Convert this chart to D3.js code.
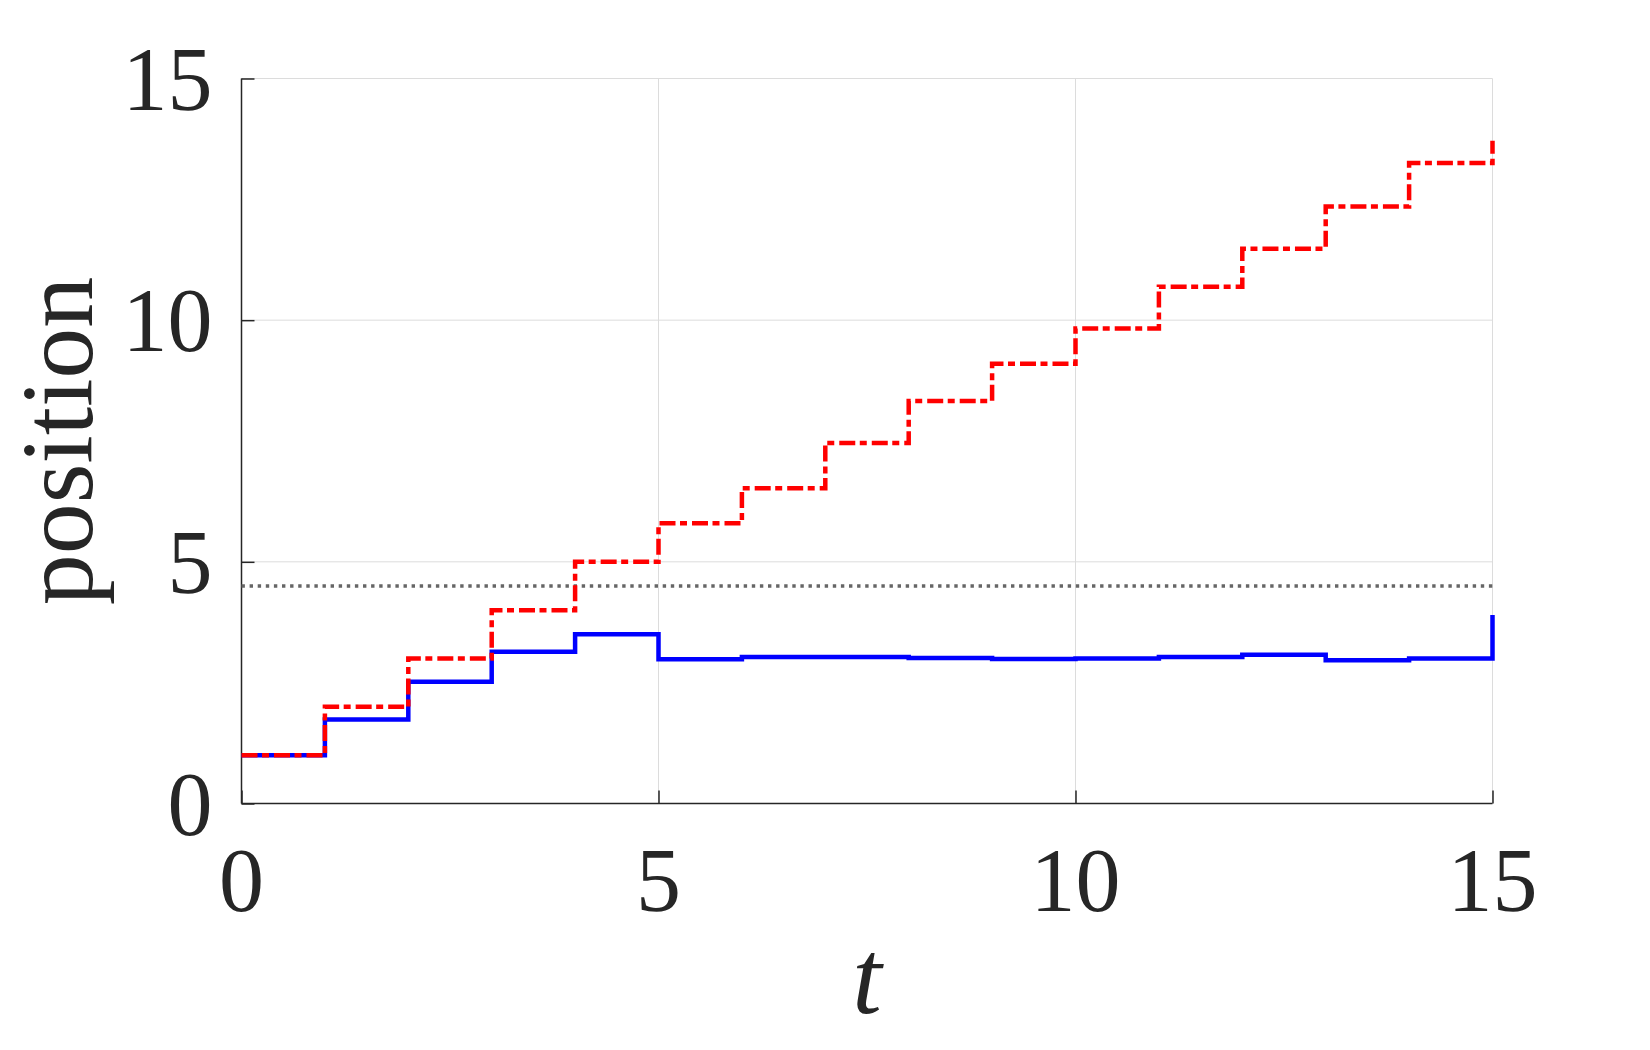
<!DOCTYPE html>
<html>
<head>
<meta charset="utf-8">
<script src="https://cdn.jsdelivr.net/npm/d3@7/dist/d3.min.js"></script>
<style>
  html, body { margin: 0; padding: 0; background: #ffffff; }
  svg { display: block; }
</style>
</head>
<body>
<svg id="chart" width="1650" height="1050"></svg>
<script>
// ---- data ----
const tValues = [0, 1, 2, 3, 4, 5, 6, 7, 8, 9, 10, 11, 12, 13, 14, 15];
const redSeries = [1.0, 2.0, 3.0, 4.0, 5.0, 5.8, 6.52, 7.46, 8.33, 9.10, 9.83, 10.69, 11.48, 12.35, 13.25, 13.71];
const blueSeries = [1.0, 1.74, 2.52, 3.14, 3.50, 2.985, 3.03, 3.03, 3.01, 2.99, 3.0, 3.03, 3.08, 2.965, 3.0, 3.9];
const thresholdValue = 4.5;
const xTicks = [0, 5, 10, 15];
const yTicks = [0, 5, 10, 15];
const xLabel = "t";
const yLabel = "position";

// ---- layout ----
const svg = d3.select("#chart");
const mLeft = 241.5, mRight = 1492.5, mTop = 78.5, mBottom = 803.5;
const x = d3.scaleLinear().domain([0, 15]).range([mLeft, mRight]);
const y = d3.scaleLinear().domain([0, 15]).range([mBottom, mTop]);
const axisColor = "#262626";
const fontFam = "'Liberation Serif', 'Times New Roman', serif";

svg.append("rect").attr("width", 1650).attr("height", 1050).attr("fill", "#fff");

// grid
const grid = svg.append("g");
grid.selectAll("line.gx").data(xTicks.filter(d => d > 0)).join("line")
  .attr("class", "gx")
  .attr("x1", d => x(d)).attr("x2", d => x(d))
  .attr("y1", mTop).attr("y2", mBottom)
  .attr("stroke", "#dcdcdc").attr("stroke-width", 1);
grid.selectAll("line.gy").data(yTicks.filter(d => d > 0)).join("line")
  .attr("class", "gy")
  .attr("x1", mLeft).attr("x2", mRight)
  .attr("y1", d => y(d)).attr("y2", d => y(d))
  .attr("stroke", "#dcdcdc").attr("stroke-width", 1);

// axes (ticks inward)
const xAxis = d3.axisBottom(x).tickValues(xTicks).tickSize(-13).tickFormat("");
const yAxis = d3.axisLeft(y).tickValues(yTicks).tickSize(-13).tickFormat("");
const gx = svg.append("g").attr("transform", `translate(0,${mBottom})`).call(xAxis);
const gy = svg.append("g").attr("transform", `translate(${mLeft},0)`).call(yAxis);
[gx, gy].forEach(g => {
  g.select(".domain").attr("stroke", axisColor).attr("stroke-width", 1.5);
  g.selectAll(".tick line").attr("stroke", axisColor).attr("stroke-width", 1.5);
});
gx.select(".domain").attr("d", `M${mLeft},0H${mRight}`);
gy.select(".domain").attr("d", `M0,${mTop}V${mBottom}`);

// tick labels
svg.append("g").selectAll("text").data(xTicks).join("text")
  .attr("x", d => x(d)).attr("y", mBottom + 107)
  .attr("text-anchor", "middle")
  .attr("font-family", fontFam).attr("font-size", 90).attr("fill", axisColor)
  .text(d => d);
svg.append("g").selectAll("text").data(yTicks).join("text")
  .attr("x", mLeft - 29).attr("y", d => y(d) + 31)
  .attr("text-anchor", "end")
  .attr("font-family", fontFam).attr("font-size", 90).attr("fill", axisColor)
  .text(d => d);

// axis titles
svg.append("text")
  .attr("x", (mLeft + mRight) / 2).attr("y", 1013)
  .attr("text-anchor", "middle")
  .attr("font-family", fontFam).attr("font-style", "italic")
  .attr("font-size", 106).attr("fill", axisColor)
  .text(xLabel);
svg.append("text")
  .attr("transform", `translate(92,${(mTop + mBottom) / 2}) rotate(-90)`)
  .attr("text-anchor", "middle")
  .attr("font-family", fontFam)
  .attr("font-size", 102).attr("fill", axisColor)
  .text(yLabel);

// threshold dotted line
svg.append("line")
  .attr("x1", x(0)).attr("x2", x(15))
  .attr("y1", y(thresholdValue)).attr("y2", y(thresholdValue))
  .attr("stroke", "#666666").attr("stroke-width", 3.5)
  .attr("stroke-dasharray", "3.4,4.7");

// step lines
const line = d3.line().curve(d3.curveStepAfter).x((d, i) => x(tValues[i])).y(d => y(d));
svg.append("path").datum(blueSeries)
  .attr("d", line).attr("fill", "none")
  .attr("stroke", "#0000ff").attr("stroke-width", 4.5)
  .attr("stroke-linejoin", "miter");
svg.append("path").datum(redSeries)
  .attr("d", line).attr("fill", "none")
  .attr("stroke", "#ff0000").attr("stroke-width", 4.5)
  .attr("stroke-dasharray", "16,4.5,7,5");
</script>
</body>
</html>
